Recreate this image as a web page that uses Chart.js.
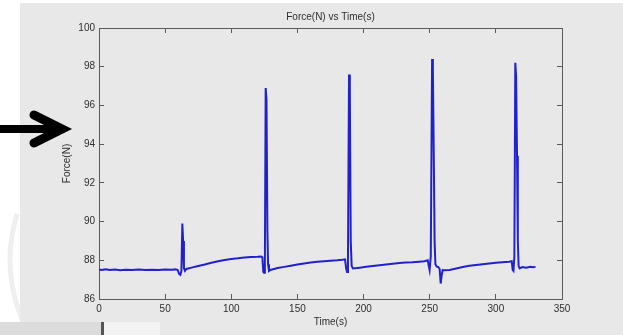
<!DOCTYPE html>
<html>
<head>
<meta charset="utf-8">
<script src="https://cdn.jsdelivr.net/npm/chart.js@4/dist/chart.umd.min.js"></script>
<style>
    html, body { margin: 0; padding: 0; background: #ffffff; }
    #ForceChart { display: block; }
</style>
</head>
<body>
<canvas id="ForceChart" width="623" height="335"></canvas>
<script>
// Readings (time in s, force in N)
let timeValues = [
    0, 2, 5, 8, 12, 16, 20, 25, 30, 35, 40, 45, 50, 55, 58, 59.5, 60.5, 61.5, 62.3, 63, 63.6, 64.2, 65, 66,
    70, 75, 80, 85, 90, 95, 100, 105, 110, 115, 120, 122.5, 123.5, 124.2, 124.8, 125.4, 126, 126.6, 127.3, 127.8, 128.5, 129.5,
    135, 140, 145, 150, 155, 160, 165, 170, 175, 180, 184, 186, 186.8, 187.5, 188.2, 189, 189.6, 190.3, 191, 192,
    197, 202, 207, 212, 217, 222, 227, 232, 237, 242, 246, 248.5, 249.3, 249.9, 250.8, 251.8, 252.4, 253.1, 253.7, 254.3, 255.2, 256.5, 257.5, 258.3, 259, 259.8, 261,
    265, 270, 275, 280, 285, 290, 295, 300, 305, 310, 312, 312.7, 313.3, 314, 314.7, 315.3, 316, 316.6, 317.2, 318, 320, 323, 326, 328, 330
];
let forceValues = [
    87.52, 87.5, 87.53, 87.5, 87.52, 87.49, 87.51, 87.5, 87.52, 87.5, 87.51, 87.5, 87.52, 87.51, 87.53, 87.5, 87.3, 87.25, 87.45, 89.9, 89.0, 87.6, 87.45, 87.55,
    87.62, 87.7, 87.78, 87.87, 87.95, 88.02, 88.07, 88.1, 88.14, 88.17, 88.18, 88.2, 88.15, 87.4, 87.35, 88.0, 96.9, 96.3, 89.5, 87.8, 87.45, 87.5,
    87.6, 87.66, 87.72, 87.78, 87.83, 87.88, 87.92, 87.95, 87.98, 88.0, 88.03, 88.05, 87.6, 87.4, 88.0, 97.6, 96.9, 89.0, 87.7, 87.58,
    87.62, 87.66, 87.7, 87.74, 87.78, 87.82, 87.86, 87.88, 87.9, 87.93, 87.95, 88.0, 87.7, 87.5, 88.2, 98.4, 97.8, 93.2, 89.0, 87.8, 87.68, 87.65, 87.55, 86.8, 87.2, 87.5, 87.48,
    87.5, 87.58, 87.65, 87.72, 87.76, 87.8, 87.84, 87.87, 87.9, 87.93, 87.95, 87.5, 87.45, 88.2, 98.2, 97.5, 93.4, 89.0, 87.7, 87.58, 87.65, 87.62, 87.66, 87.64, 87.66
];

let timeMin = 0, timeMax = 350, timeStep = 50;
let forceMin = 86, forceMax = 100, forceStep = 2;

let chartTitle = 'Force(N) vs Time(s)';
let xTitle = 'Time(s)';
let yTitle = 'Force(N)';

let textFont = { family: 'Arial, "Liberation Sans", sans-serif', size: 10 };
let textColor = '#2e2e2e';
let frameColor = '#5a5a5a';

// inward MATLAB style tick marks
let innerGrid = { drawOnChartArea: false, drawTicks: true, tickLength: -5, color: frameColor };
let frameBorder = { display: true, color: frameColor, width: 1 };

// Figure background, arrow and the photo bits round the plot
let picturePlugin = {
    id: 'picturePlugin',
    beforeDraw: function (chart) {
        let ctx = chart.ctx;
        ctx.save();
        ctx.fillStyle = '#ffffff';
        ctx.fillRect(0, 0, chart.width, chart.height);

        //faint curves on the white left edge
        ctx.save();
        ctx.beginPath();
        ctx.rect(0, 0, 20, chart.height);
        ctx.clip();
        ctx.strokeStyle = '#efefef';
        ctx.lineWidth = 5;
        ctx.beginPath();
        ctx.arc(160, 260, 150, Math.PI * 0.8, Math.PI * 1.1);
        ctx.stroke();
        ctx.restore();

        ctx.fillStyle = '#e8e8e8';
        ctx.fillRect(20, 3, chart.width - 20, chart.height - 3);

        //bottom-left photo fragment
        ctx.fillStyle = '#dcdcdc';
        ctx.fillRect(0, 322, 102, 13);
        ctx.fillStyle = '#f3f3f3';
        ctx.fillRect(104, 322, 56, 13);
        ctx.fillStyle = '#555555';
        ctx.fillRect(101, 322, 3, 13);
        ctx.restore();
    },
    afterDraw: function (chart) {
        let ctx = chart.ctx;
        ctx.save();
        ctx.strokeStyle = '#000000';
        ctx.lineCap = 'round';
        ctx.lineJoin = 'miter';
        ctx.lineWidth = 8;
        ctx.beginPath();
        ctx.moveTo(0, 129);
        ctx.lineTo(58, 129);
        ctx.stroke();
        ctx.lineWidth = 9;
        ctx.beginPath();
        ctx.moveTo(34, 115);
        ctx.lineTo(62, 129);
        ctx.lineTo(34, 143);
        ctx.stroke();
        ctx.restore();
    }
};

let points = timeValues.map((t, i) => ({ x: t, y: forceValues[i] }));

new Chart(
    document.getElementById('ForceChart'),
    {
        type: 'line',
        data: {
            datasets: [
                {
                    label: 'Force',
                    data: points,
                    xAxisID: 'x',
                    yAxisID: 'y',
                    borderColor: '#2121cc',
                    borderWidth: 2,
                    pointRadius: 0,
                    tension: 0,
                    fill: false
                }
            ]
        },
        options: {
            responsive: false,
            animation: false,
            layout: { padding: 0 },
            plugins: {
                legend: { display: false },
                title: { display: false },
                tooltip: { enabled: false }
            },
            scales: {
                x: {
                    type: 'linear',
                    position: 'bottom',
                    min: timeMin,
                    max: timeMax,
                    grid: innerGrid,
                    border: frameBorder,
                    ticks: { stepSize: timeStep, color: textColor, font: textFont, padding: 9, maxRotation: 0 },
                    title: { display: true, text: xTitle, color: textColor, font: textFont, padding: { top: 0, bottom: 7 } },
                    afterFit: function (scale) { scale.height = 36; }
                },
                x2: {
                    type: 'linear',
                    position: 'top',
                    min: timeMin,
                    max: timeMax,
                    grid: innerGrid,
                    border: frameBorder,
                    ticks: { stepSize: timeStep, display: false },
                    title: { display: true, text: chartTitle, color: textColor, font: textFont, padding: { top: 11, bottom: 0 } },
                    afterFit: function (scale) { scale.height = 28; }
                },
                y: {
                    type: 'linear',
                    position: 'left',
                    min: forceMin,
                    max: forceMax,
                    grid: innerGrid,
                    border: frameBorder,
                    ticks: { stepSize: forceStep, color: textColor, font: textFont, padding: 9 },
                    title: { display: true, text: yTitle, color: textColor, font: textFont, padding: { top: 61, bottom: 0 } },
                    afterFit: function (scale) { scale.width = 99; }
                },
                y2: {
                    type: 'linear',
                    position: 'right',
                    min: forceMin,
                    max: forceMax,
                    grid: innerGrid,
                    border: frameBorder,
                    ticks: { stepSize: forceStep, display: false },
                    afterFit: function (scale) { scale.width = 61; }
                }
            }
        },
        plugins: [picturePlugin]
    }
);
</script>
</body>
</html>
